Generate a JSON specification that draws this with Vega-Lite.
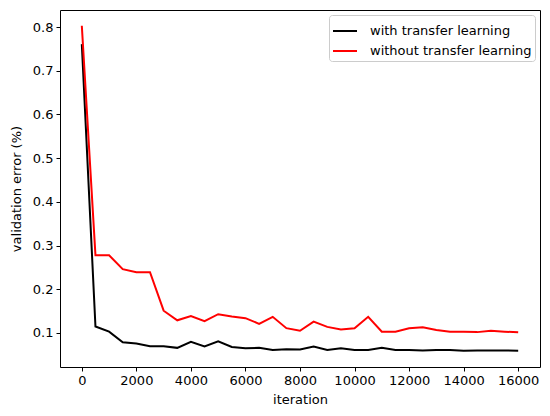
{
  "$schema": "https://vega.github.io/schema/vega-lite/v6.json",
  "width": 480,
  "height": 357,
  "autosize": {"type": "none"},
  "padding": {"left": 60, "top": 10, "right": 10, "bottom": 49},
  "background": "white",
  "config": {
    "view": {"stroke": "black", "strokeWidth": 1},
    "font": "DejaVu Sans",
    "axis": {
      "grid": false,
      "domain": false,
      "tickColor": "black",
      "tickSize": 4,
      "labelColor": "black",
      "labelFontSize": 13,
      "titleFontSize": 13,
      "titleFontWeight": "normal",
      "titleColor": "black",
      "labelFont": "DejaVu Sans",
      "titleFont": "DejaVu Sans",
      "labelPadding": 3
    }
  },
  "data": {
    "values": [
      {"iteration": 0, "series": "with transfer learning", "error": 0.761},
      {"iteration": 500, "series": "with transfer learning", "error": 0.115},
      {"iteration": 1000, "series": "with transfer learning", "error": 0.103},
      {"iteration": 1500, "series": "with transfer learning", "error": 0.079},
      {"iteration": 2000, "series": "with transfer learning", "error": 0.076},
      {"iteration": 2500, "series": "with transfer learning", "error": 0.0696},
      {"iteration": 3000, "series": "with transfer learning", "error": 0.0696},
      {"iteration": 3500, "series": "with transfer learning", "error": 0.066},
      {"iteration": 4000, "series": "with transfer learning", "error": 0.080},
      {"iteration": 4500, "series": "with transfer learning", "error": 0.069},
      {"iteration": 5000, "series": "with transfer learning", "error": 0.081},
      {"iteration": 5500, "series": "with transfer learning", "error": 0.068},
      {"iteration": 6000, "series": "with transfer learning", "error": 0.065},
      {"iteration": 6500, "series": "with transfer learning", "error": 0.066},
      {"iteration": 7000, "series": "with transfer learning", "error": 0.061},
      {"iteration": 7500, "series": "with transfer learning", "error": 0.0627},
      {"iteration": 8000, "series": "with transfer learning", "error": 0.0625},
      {"iteration": 8500, "series": "with transfer learning", "error": 0.069},
      {"iteration": 9000, "series": "with transfer learning", "error": 0.061},
      {"iteration": 9500, "series": "with transfer learning", "error": 0.065},
      {"iteration": 10000, "series": "with transfer learning", "error": 0.061},
      {"iteration": 10500, "series": "with transfer learning", "error": 0.061},
      {"iteration": 11000, "series": "with transfer learning", "error": 0.066},
      {"iteration": 11500, "series": "with transfer learning", "error": 0.061},
      {"iteration": 12000, "series": "with transfer learning", "error": 0.061},
      {"iteration": 12500, "series": "with transfer learning", "error": 0.060},
      {"iteration": 13000, "series": "with transfer learning", "error": 0.061},
      {"iteration": 13500, "series": "with transfer learning", "error": 0.061},
      {"iteration": 14000, "series": "with transfer learning", "error": 0.0595},
      {"iteration": 14500, "series": "with transfer learning", "error": 0.060},
      {"iteration": 15000, "series": "with transfer learning", "error": 0.060},
      {"iteration": 15500, "series": "with transfer learning", "error": 0.060},
      {"iteration": 16000, "series": "with transfer learning", "error": 0.0595},
      {"iteration": 0, "series": "without transfer learning", "error": 0.803},
      {"iteration": 500, "series": "without transfer learning", "error": 0.278},
      {"iteration": 1000, "series": "without transfer learning", "error": 0.278},
      {"iteration": 1500, "series": "without transfer learning", "error": 0.246},
      {"iteration": 2000, "series": "without transfer learning", "error": 0.239},
      {"iteration": 2500, "series": "without transfer learning", "error": 0.239},
      {"iteration": 3000, "series": "without transfer learning", "error": 0.151},
      {"iteration": 3500, "series": "without transfer learning", "error": 0.129},
      {"iteration": 4000, "series": "without transfer learning", "error": 0.139},
      {"iteration": 4500, "series": "without transfer learning", "error": 0.127},
      {"iteration": 5000, "series": "without transfer learning", "error": 0.143},
      {"iteration": 5500, "series": "without transfer learning", "error": 0.138},
      {"iteration": 6000, "series": "without transfer learning", "error": 0.134},
      {"iteration": 6500, "series": "without transfer learning", "error": 0.121},
      {"iteration": 7000, "series": "without transfer learning", "error": 0.137},
      {"iteration": 7500, "series": "without transfer learning", "error": 0.111},
      {"iteration": 8000, "series": "without transfer learning", "error": 0.105},
      {"iteration": 8500, "series": "without transfer learning", "error": 0.126},
      {"iteration": 9000, "series": "without transfer learning", "error": 0.114},
      {"iteration": 9500, "series": "without transfer learning", "error": 0.108},
      {"iteration": 10000, "series": "without transfer learning", "error": 0.111},
      {"iteration": 10500, "series": "without transfer learning", "error": 0.137},
      {"iteration": 11000, "series": "without transfer learning", "error": 0.103},
      {"iteration": 11500, "series": "without transfer learning", "error": 0.103},
      {"iteration": 12000, "series": "without transfer learning", "error": 0.111},
      {"iteration": 12500, "series": "without transfer learning", "error": 0.113},
      {"iteration": 13000, "series": "without transfer learning", "error": 0.107},
      {"iteration": 13500, "series": "without transfer learning", "error": 0.103},
      {"iteration": 14000, "series": "without transfer learning", "error": 0.103},
      {"iteration": 14500, "series": "without transfer learning", "error": 0.102},
      {"iteration": 15000, "series": "without transfer learning", "error": 0.105},
      {"iteration": 15500, "series": "without transfer learning", "error": 0.103},
      {"iteration": 16000, "series": "without transfer learning", "error": 0.1015}
    ]
  },
  "mark": {"type": "line", "strokeWidth": 2},
  "encoding": {
    "x": {
      "field": "iteration",
      "type": "quantitative",
      "scale": {"domain": [-800, 16800], "nice": false, "zero": false},
      "axis": {"values": [0, 2000, 4000, 6000, 8000, 10000, 12000, 14000, 16000], "format": "d", "title": "iteration", "titlePadding": 6}
    },
    "y": {
      "field": "error",
      "type": "quantitative",
      "scale": {"domain": [0.0222, 0.839], "nice": false, "zero": false},
      "axis": {"values": [0.1, 0.2, 0.3, 0.4, 0.5, 0.6, 0.7, 0.8], "format": ".1f", "title": "validation error (%)", "titlePadding": 9}
    },
    "color": {
      "field": "series",
      "type": "nominal",
      "scale": {"domain": ["with transfer learning", "without transfer learning"], "range": ["#000000", "#ff0000"]},
      "legend": {
        "title": null,
        "orient": "top-right",
        "offset": 5,
        "symbolType": "stroke",
        "symbolSize": 576,
        "symbolStrokeWidth": 2,
        "labelFontSize": 13,
        "labelColor": "black",
        "labelFont": "DejaVu Sans",
        "labelOffset": 12,
        "labelLimit": 400,
        "strokeColor": "#cccccc",
        "fillColor": "white",
        "cornerRadius": 3,
        "padding": 3,
        "rowPadding": 0
      }
    }
  }
}
